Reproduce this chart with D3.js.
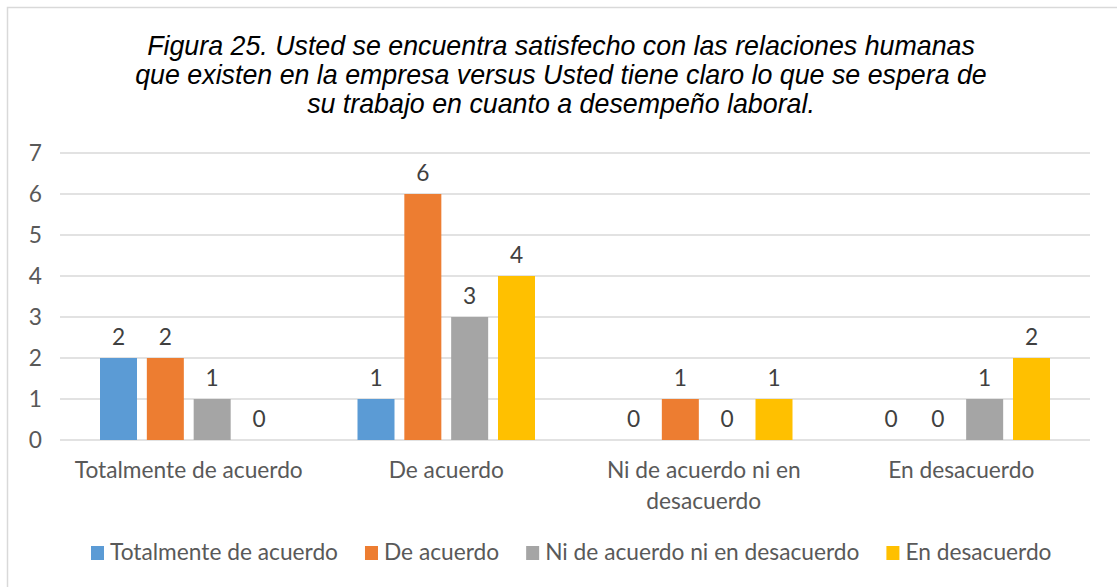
<!DOCTYPE html>
<html>
<head>
<meta charset="utf-8">
<script src="https://cdn.jsdelivr.net/npm/d3@7"></script>
<style>
  body { margin: 0; background: #fff; }
  text { font-family: Lato, "Open Sans", sans-serif; fill: #595959; }
</style>
</head>
<body>
<div id="chart"></div>
<script>
// Chart data
var categories = ["Totalmente de acuerdo", "De acuerdo", "Ni de acuerdo ni en desacuerdo", "En desacuerdo"];
var seriesNames = ["Totalmente de acuerdo", "De acuerdo", "Ni de acuerdo ni en desacuerdo", "En desacuerdo"];
var seriesColors = ["#5B9BD5", "#ED7D31", "#A5A5A5", "#FFC000"];
var totalmente = [2, 1, 0, 0];
var deAcuerdo = [2, 6, 1, 0];
var niNi = [1, 3, 0, 1];
var enDesacuerdo = [0, 4, 1, 2];
var yTicks = [0, 1, 2, 3, 4, 5, 6, 7];
var titleLines = [
  "Figura 25. Usted se encuentra satisfecho con las relaciones humanas",
  "que existen en la empresa versus Usted tiene claro lo que se espera de",
  "su trabajo en cuanto a desempeño laboral."
];

var seriesValues = [totalmente, deAcuerdo, niNi, enDesacuerdo];

var svgWidth = 1117;
var svgHeight = 587;
var margin = { top: 153, right: 27, bottom: 147, left: 60 };
var chartWidth = svgWidth - margin.left - margin.right;
var chartHeight = svgHeight - margin.top - margin.bottom;

var svg = d3.select("#chart")
  .append("svg")
  .attr("width", svgWidth)
  .attr("height", svgHeight);

// fit a font size so a sample string has the wanted width
function fitSize(sample, family, style, target) {
  var t = svg.append("text")
    .style("font-family", family)
    .style("font-style", style)
    .style("font-size", "20px")
    .text(sample);
  var w = t.node().getComputedTextLength();
  t.remove();
  return 20 * target / w;
}

var bodyFont = "Lato, 'Open Sans', sans-serif";
var titleFont = "'Liberation Sans', Arial, sans-serif";
var bodySize = fitSize("Totalmente de acuerdo", bodyFont, "normal", 228);
var titleSize = fitSize(titleLines[0], titleFont, "italic", 828);

// outer border
svg.append("rect")
  .attr("x", 7.5).attr("y", 7.5)
  .attr("width", 1200).attr("height", 700)
  .attr("fill", "none")
  .attr("stroke", "#d9d9d9")
  .attr("stroke-width", 1.5);

// title
svg.append("text")
  .attr("text-anchor", "middle")
  .style("font-family", titleFont)
  .style("font-style", "italic")
  .style("font-size", titleSize + "px")
  .style("fill", "#000")
  .selectAll("tspan")
  .data(titleLines)
  .enter()
  .append("tspan")
  .attr("x", 561)
  .attr("y", function(d, i) { return 55 + i * 29; })
  .text(function(d) { return d; });

var chartGroup = svg.append("g")
  .attr("transform", `translate(${margin.left}, ${margin.top})`);

var x0 = d3.scaleBand().domain(categories).range([0, chartWidth]);
var x1 = d3.scaleBand().domain(seriesNames).range([40, x0.bandwidth() - 40]).paddingInner(0.21);
var yScale = d3.scaleLinear().domain([0, 7]).range([chartHeight, 0]);

// gridlines
chartGroup.selectAll(".grid")
  .data(yTicks)
  .enter()
  .append("line")
  .attr("x1", 0).attr("x2", chartWidth)
  .attr("y1", d => yScale(d)).attr("y2", d => yScale(d))
  .attr("stroke", "#d9d9d9")
  .attr("stroke-width", 1.5);

// y axis labels
var yAxis = d3.axisLeft(yScale).tickValues(yTicks).tickFormat(d3.format("d")).tickSize(0).tickPadding(18);
var yG = chartGroup.append("g").call(yAxis);
yG.select(".domain").remove();
yG.selectAll("text").style("font-size", bodySize + "px").style("fill", "#595959")
  .style("font-family", bodyFont);

// bars
var rows = categories.map(function(c, ci) {
  return seriesNames.map(function(s, si) {
    return { cat: c, series: s, value: seriesValues[si][ci], color: seriesColors[si] };
  });
});

var groups = chartGroup.selectAll(".group")
  .data(rows)
  .enter()
  .append("g")
  .attr("transform", (d, i) => `translate(${x0(categories[i])},0)`);

groups.selectAll("rect")
  .data(d => d)
  .enter()
  .append("rect")
  .attr("x", d => x1(d.series))
  .attr("y", d => yScale(d.value))
  .attr("width", x1.bandwidth())
  .attr("height", d => chartHeight - yScale(d.value))
  .attr("fill", d => d.color);

groups.selectAll(".lbl")
  .data(d => d)
  .enter()
  .append("text")
  .attr("x", d => x1(d.series) + x1.bandwidth() / 2)
  .attr("y", d => yScale(d.value) - 13)
  .attr("text-anchor", "middle")
  .style("font-size", bodySize + "px")
  .style("fill", "#404040")
  .text(d => d.value);

// x axis labels
var xLabelLines = [["Totalmente de acuerdo"], ["De acuerdo"], ["Ni de acuerdo ni en", "desacuerdo"], ["En desacuerdo"]];
var xl = chartGroup.selectAll(".xlabel")
  .data(categories)
  .enter()
  .append("text")
  .attr("text-anchor", "middle")
  .style("font-size", bodySize + "px");
xl.selectAll("tspan")
  .data((d, i) => xLabelLines[i].map(t => ({ t: t, c: d })))
  .enter()
  .append("tspan")
  .attr("x", d => x0(d.c) + x0.bandwidth() / 2)
  .attr("y", (d, i) => chartHeight + 38 + i * 31)
  .text(d => d.t);

// legend, laid out from the text widths
var legend = svg.append("g").attr("transform", "translate(0, 553)");
var lx = 91;
seriesNames.forEach(function(name, i) {
  legend.append("rect")
    .attr("x", lx).attr("y", -7)
    .attr("width", 13).attr("height", 14)
    .attr("fill", seriesColors[i]);
  var t = legend.append("text")
    .attr("x", lx + 19)
    .attr("y", 7)
    .style("font-size", bodySize + "px")
    .text(name);
  lx = lx + 19 + t.node().getComputedTextLength() + 27;
});
</script>
</body>
</html>
